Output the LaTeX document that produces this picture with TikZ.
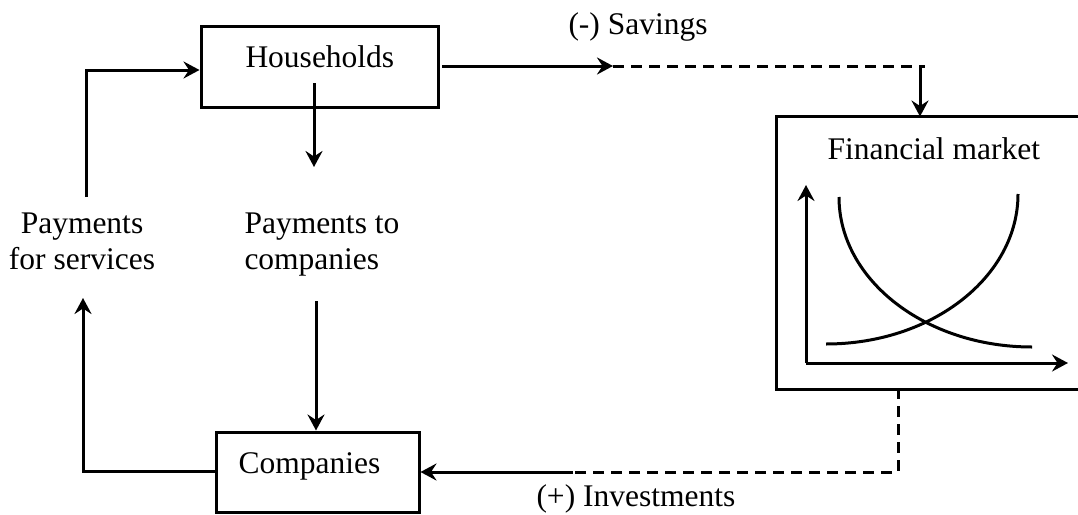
\documentclass[tikz,border=0pt]{standalone}
\usepackage{fontspec}
\setmainfont{Liberation Serif}
\usetikzlibrary{arrows.meta}
\begin{document}
\begin{tikzpicture}[x=1pt,y=-1pt,
  line width=3pt,
  tip/.style={-{Stealth[length=16pt,width=17pt,inset=5.5pt]}},
  box/.style={draw,rectangle,inner sep=0pt,line width=3pt},
  dashline/.style={dash pattern=on 11pt off 7pt},
  txt/.style={inner sep=0pt,anchor=base west,font=\fontsize{31.5}{36}\selectfont}]
\useasboundingbox (0,0) rectangle (1078,514);
\clip (0,0) rectangle (1078,514);

% boxes
\node[box,minimum width=237pt,minimum height=81pt] (hh) at (319.5,66.5) {};
\node[box,minimum width=203pt,minimum height=80pt] (co) at (317.5,472) {};
% the market frame runs off the right margin, so only three sides show
\node[rectangle,inner sep=0pt,minimum width=304pt,minimum height=270pt] (fm) at (930,253) {};
\draw (fm.north east) -- (fm.north west) -- (fm.south west) -- (fm.south east);

% texts
\node[txt] (thh) at (244,67) {Households};
\node[txt] (tco) at (237,473) {Companies};
\node[txt] (tfm) at (826,159) {Financial market};
\node[txt] (tsav) at (567,34) {(-) Savings};
\node[txt] (tinv) at (535,506) {(+) Investments};
\node[txt] (pc1) at (243,233) {Payments to};
\node[txt] (pc2) at (243,269) {companies};
\node[inner sep=0pt,anchor=base,font=\fontsize{31.5}{36}\selectfont] (ps1) at (82,233) {Payments};
\node[inner sep=0pt,anchor=base,font=\fontsize{31.5}{36}\selectfont] (ps2) at (82,269) {for services};

% connector endpoints
\coordinate (a1) at (83,471);
\coordinate (a2) at (83,298);
\coordinate (b1) at (86,197);
\coordinate (b2) at (86,70);
\coordinate (c1) at (314,83);
\coordinate (c2) at (314,167);
\coordinate (d1) at (316,301);
\coordinate (s1) at (442,66);
\coordinate (s2) at (613,66);
\coordinate (s3) at (925,66);
\coordinate (s4) at (920,66);
\coordinate (i1) at (898,388);
\coordinate (i2) at (898,472);
\coordinate (i3) at (573,472);

% flows around households and companies
\draw[tip] (co.west |- a1) -- (a1) -- (a2);
\draw[tip] (b1) -- (b2) -- (hh.west |- b2);
\draw[tip] (c1) -- (c2);
\draw[tip] (d1) -- (d1 |- co.north);

% savings into the financial market
\draw[tip] (s1) -- (s2);
\draw[dashline] (s2) -- (s3);
\draw[tip] (s4) -- (s4 |- fm.north);

% investments out of the financial market
\draw[dashline] (i1) -- (i2) -- (i3);
\draw[tip] (i3) -- (co.east |- i3);

% market chart
\coordinate (o) at (806,363);
\coordinate (ya) at (806,185);
\coordinate (xa) at (1068,363);
\draw[tip] (o) -- (ya);
\draw[tip] (o) -- (xa);
\coordinate (dem0) at (839,197);
\coordinate (dem1) at (1032,347);
\coordinate (sup0) at (826,344);
\coordinate (sup1) at (1018,194);
\draw (dem0) .. controls (839,279.8) and (925.4,347) .. (dem1);
\draw (sup0) .. controls (932,344) and (1018,276.8) .. (sup1);
\end{tikzpicture}
\end{document}
